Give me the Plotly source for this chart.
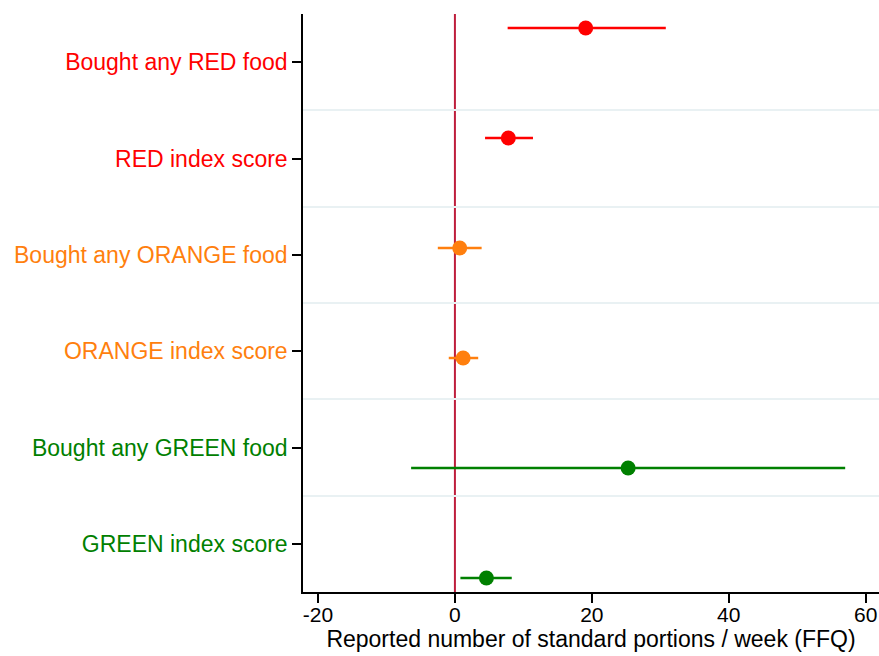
import numpy as np
import plotly.graph_objects as go

labels = ["Bought any RED food", "RED index score", "Bought any ORANGE food",
          "ORANGE index score", "Bought any GREEN food", "GREEN index score"]
estimates = [19.1, 7.8, 0.7, 1.2, 25.3, 4.6]
ci_low = [7.7, 4.4, -2.5, -0.9, -6.4, 0.8]
ci_high = [30.8, 11.4, 3.9, 3.4, 57.0, 8.3]
label_colors = ["#ff0000", "#ff0000", "#ff7f0e", "#ff7f0e", "#008000", "#008000"]
x_ticks = [-20, 0, 20, 40, 60]
x_title = "Reported number of standard portions / week (FFQ)"

n = len(labels)
label_pos = np.arange(1, n + 1)
pad = 0.145
point_pos = np.linspace(0.5 + pad, n + 0.5 - pad, n)

fig = go.Figure()
for i in range(n):
    fig.add_trace(go.Scatter(
        x=[ci_low[i], ci_high[i]], y=[point_pos[i], point_pos[i]],
        mode="lines", line=dict(color=label_colors[i], width=2.5),
        showlegend=False, hoverinfo="skip"))
    fig.add_trace(go.Scatter(
        x=[estimates[i]], y=[point_pos[i]], mode="markers",
        marker=dict(color=label_colors[i], size=15),
        showlegend=False, name=labels[i]))

fig.add_vline(x=0, line=dict(color="#be1e3c", width=2), layer="below")

ticktext = [f"<span style='color:{c}'>{t}</span>" for t, c in zip(labels, label_colors)]

fig.update_layout(
    width=879, height=656,
    margin=dict(l=303, r=0, t=14, b=64),
    paper_bgcolor="white", plot_bgcolor="white",
    font=dict(family="Liberation Sans, Arial, sans-serif", size=23, color="black"),
    xaxis=dict(
        range=[-22.19, 61.94],
        tickvals=x_ticks, ticktext=[str(v) for v in x_ticks],
        showgrid=False, zeroline=False,
        showline=True, linecolor="black", linewidth=1.5,
        ticks="outside", ticklen=9, tickwidth=1.5, tickcolor="black",
        tickfont=dict(size=21),
        title=dict(text=x_title, font=dict(size=23), standoff=0),
    ),
    yaxis=dict(
        range=[n + 0.5, 0.5],
        tickvals=list(label_pos), ticktext=ticktext,
        showgrid=False, zeroline=False,
        showline=True, linecolor="black", linewidth=1.5,
        ticks="outside", ticklen=9, tickwidth=1.5, tickcolor="black",
        tickfont=dict(size=23),
        minor=dict(tickvals=list(label_pos[:-1] + 0.5), showgrid=True,
                   gridcolor="#e9f1f3", gridwidth=2, ticks=""),
    ),
)

try:
    fig.update_xaxes(ticklabelstandoff=-6)
except Exception:
    pass

fig.write_html("out.html", config={"displayModeBar": False},
               post_script="document.body.style.margin='0';document.body.style.overflow='hidden';")
